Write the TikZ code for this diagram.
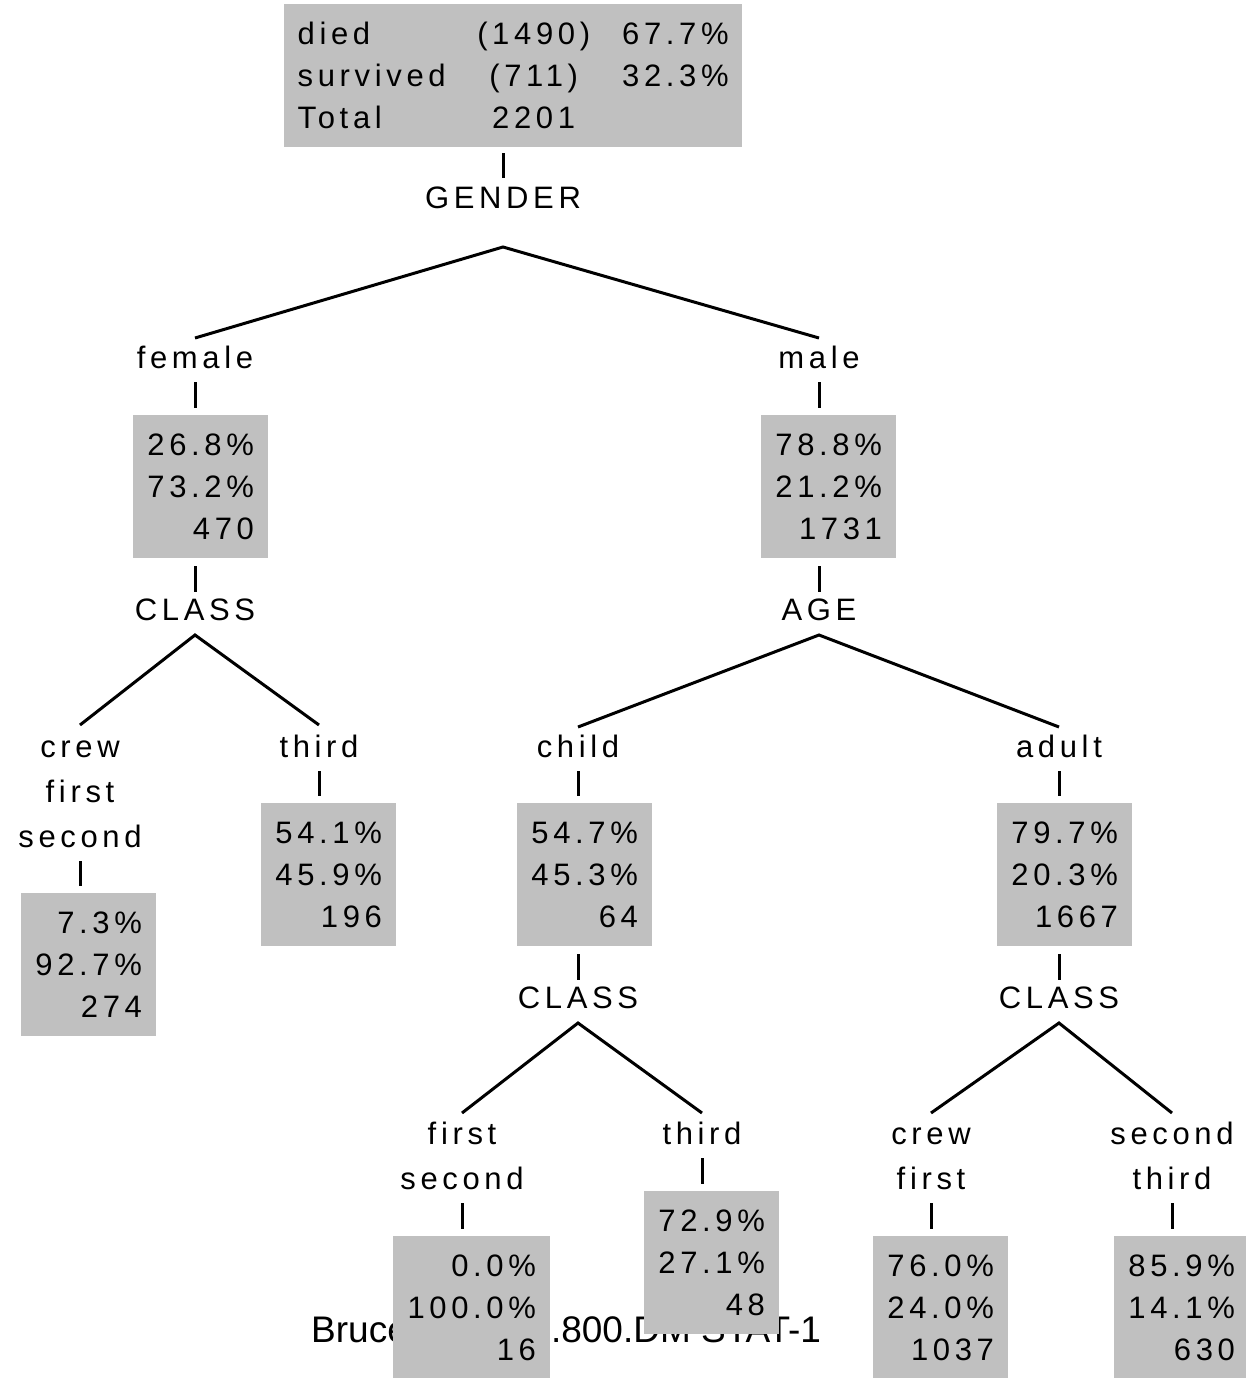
\documentclass[tikz,border=0pt]{standalone}
\usepackage{fontspec}
\usetikzlibrary{calc}
\newfontfamily\tf[LetterSpace=15]{Liberation Sans}
\newfontfamily\ff{Liberation Sans}
\definecolor{boxgray}{HTML}{C0C0C0}
\begin{document}
\begin{tikzpicture}[x=1pt,y=-1pt,
  box/.style={fill=boxgray, draw=none, inner sep=0pt, minimum height=143pt,
    minimum width=135pt, align=right, anchor=north west,
    font={\tf\fontsize{31}{42}\selectfont}},
  lab/.style={inner sep=0pt, align=center, anchor=base,
    font={\tf\fontsize{31}{45}\selectfont}},
  edge/.style={line width=3pt},
  foot/.style={inner sep=0pt, anchor=base west, font={\ff\fontsize{37}{40}\selectfont}},
]
\useasboundingbox (0,0) rectangle (1246,1378);

% footer (partly hidden by boxes)
\node[foot] (footer) at (311,1342) {Bruce Ratner\hspace{-9pt} 1.800.DM STAT-1};

% root
\node[box, minimum width=458pt, minimum height=143pt, align=left] (root) at (284,4)
  {\makebox[180pt][l]{died}\makebox[112pt][c]{(1490)}\makebox[139pt][r]{67.7\%}\\
   \makebox[180pt][l]{survived}\makebox[112pt][c]{(711)}\makebox[139pt][r]{32.3\%}\\
   \makebox[180pt][l]{Total}\makebox[112pt][c]{2201}\makebox[139pt][r]{}};
\node[lab] (gender) at (503,208) {GENDER};

% level 1
\node[lab] (female) at (195,368) {female};
\node[lab] (male) at (819,368) {male};
\node[box] (fbox) at (133,415) {26.8\%\\73.2\%\\470};
\node[box] (mbox) at (761,415) {78.8\%\\21.2\%\\1731};
\node[lab] (classF) at (195,620) {CLASS};
\node[lab] (age) at (819,620) {AGE};

% level 2 (base anchor = last line's baseline)
\node[lab] (crewL) at (80,847) {crew\\first\\second};
\node[lab] (thirdL) at (319,757) {third};
\node[lab] (child) at (578,757) {child};
\node[lab] (adult) at (1059,757) {adult};
\node[box] (cfsbox) at (21,893) {7.3\%\\92.7\%\\274};
\node[box] (tLbox) at (261,803) {54.1\%\\45.9\%\\196};
\node[box] (chbox) at (517,803) {54.7\%\\45.3\%\\64};
\node[box] (adbox) at (997,803) {79.7\%\\20.3\%\\1667};
\node[lab] (classC) at (578,1008) {CLASS};
\node[lab] (classA) at (1059,1008) {CLASS};

% level 3
\node[lab] (firstC) at (462,1189) {first\\second};
\node[lab] (thirdC) at (702,1144) {third};
\node[lab] (crewA) at (931,1189) {crew\\first};
\node[lab] (secondA) at (1172,1189) {second\\third};
\node[box, minimum width=157pt] (fsbox) at (393,1236) {0.0\%\\100.0\%\\16};
\node[box] (tCbox) at (644,1191) {72.9\%\\27.1\%\\48};
\node[box] (cfbox) at (873,1236) {76.0\%\\24.0\%\\1037};
\node[box] (stbox) at (1114,1236) {85.9\%\\14.1\%\\630};

% apex coordinates
\coordinate (gA) at ([yshift=-39pt]gender.base);
\coordinate (fA) at ([yshift=-15pt]classF.base);
\coordinate (aA) at ([yshift=-15pt]age.base);
\coordinate (cA) at ([yshift=-15pt]classC.base);
\coordinate (dA) at ([yshift=-15pt]classA.base);

% ticks: box -> split label
\draw[edge] ([yshift=-6pt]root.south -| gender.base) -- ([yshift=30pt]gender.base);
\draw[edge] ([yshift=-8pt]fbox.south -| classF.base) -- ([yshift=28pt]classF.base);
\draw[edge] ([yshift=-8pt]mbox.south -| age.base) -- ([yshift=28pt]age.base);
\draw[edge] ([yshift=-8pt]chbox.south -| classC.base) -- ([yshift=28pt]classC.base);
\draw[edge] ([yshift=-8pt]adbox.south -| classA.base) -- ([yshift=28pt]classA.base);

% ticks: label -> box
\draw[edge] ([yshift=-14pt]female.base) -- ([yshift=7pt]fbox.north -| female.base);
\draw[edge] ([yshift=-14pt]male.base) -- ([yshift=7pt]mbox.north -| male.base);
\draw[edge] ([yshift=-14pt]crewL.base) -- ([yshift=7pt]cfsbox.north -| crewL.base);
\draw[edge] ([yshift=-14pt]thirdL.base) -- ([yshift=7pt]tLbox.north -| thirdL.base);
\draw[edge] ([yshift=-14pt]child.base) -- ([yshift=7pt]chbox.north -| child.base);
\draw[edge] ([yshift=-14pt]adult.base) -- ([yshift=7pt]adbox.north -| adult.base);
\draw[edge] ([yshift=-14pt]firstC.base) -- ([yshift=7pt]fsbox.north -| firstC.base);
\draw[edge] ([yshift=-14pt]thirdC.base) -- ([yshift=7pt]tCbox.north -| thirdC.base);
\draw[edge] ([yshift=-14pt]crewA.base) -- ([yshift=7pt]cfbox.north -| crewA.base);
\draw[edge] ([yshift=-14pt]secondA.base) -- ([yshift=7pt]stbox.north -| secondA.base);

% branches (end points just above the first line of each label)
\draw[edge] ([yshift=30pt]female.base) -- (gA) -- ([yshift=30pt]male.base);
\draw[edge] ([yshift=122pt]crewL.base) -- (fA) -- ([yshift=32pt]thirdL.base);
\draw[edge] ([yshift=30pt]child.base) -- (aA) -- ([yshift=30pt]adult.base);
\draw[edge] ([yshift=76pt]firstC.base) -- (cA) -- ([yshift=31pt]thirdC.base);
\draw[edge] ([yshift=76pt]crewA.base) -- (dA) -- ([yshift=76pt]secondA.base);
\end{tikzpicture}
\end{document}
